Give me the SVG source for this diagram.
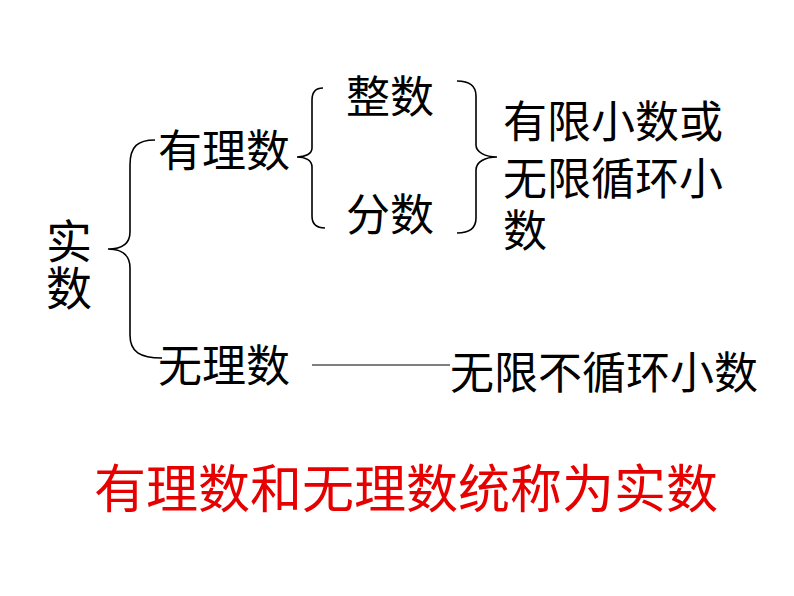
<svg xmlns="http://www.w3.org/2000/svg" width="794" height="596" viewBox="0 0 794 596">
<style>
text{font-family:"Noto Sans CJK SC","Noto Sans",sans-serif;fill:#000;font-size:44px}
.red{fill:#e60000;font-size:52px}
.br{fill:none;stroke:#000;stroke-width:1.6}
.ln{fill:none;stroke:#555;stroke-width:1.6}
</style>
<rect width="794" height="596" fill="#fff"/>
<g id="connectors">
<path class="br" d="M155,140 C138,140 130,146 130,165 L130,232 C130,245 120,249 108,249 C120,249 130,254 130,268 L130,335 C130,352 140,358 162,358"/>
<path class="br" d="M323,88 C315,88 312,92 312,100 L312,148 C312,154 305,157 297,157 C305,157 312,160 312,167 L312,216 C312,224 316,228 325,228"/>
<path class="br" d="M457,81 C470,81 476,86 476,96 L476,145 C476,152 485,157 497,157 C485,157 476,162 476,170 L476,218 C476,228 470,233 457,233"/>
<path class="ln" d="M312,365 L450,365"/>
</g>
<g id="n-shishu"><text style="font-size:46px"><tspan x="46" y="258">实</tspan><tspan x="46" y="305">数</tspan></text></g>
<g id="n-youli"><text x="158" y="167">有理数</text></g>
<g id="n-zhengshu"><text x="346" y="113">整数</text></g>
<g id="n-fenshu"><text x="346" y="231">分数</text></g>
<g id="n-youxian"><text><tspan x="503" y="138">有限小数或</tspan><tspan x="503" y="195">无限循环小</tspan><tspan x="503" y="247">数</tspan></text></g>
<g id="n-wuli"><text x="158" y="382">无理数</text></g>
<g id="n-wuxian"><text x="450" y="389">无限不循环小数</text></g>
<g id="n-summary"><text class="red" x="94" y="508">有理数和无理数统称为实数</text></g>
</svg>
